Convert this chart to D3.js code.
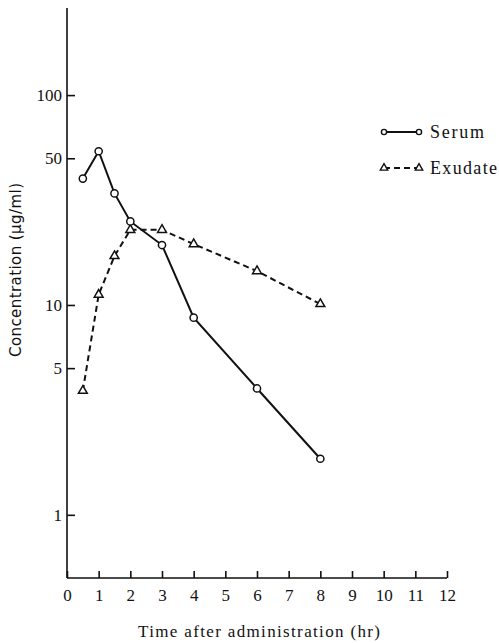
<!DOCTYPE html>
<html>
<head>
<meta charset="utf-8">
<script src="https://cdn.jsdelivr.net/npm/d3@7"></script>
<style>
  body { margin: 0; background: #fff; }
  text { font-family: "Liberation Serif", "DejaVu Serif", serif; fill: #111; }
  .axis path, .axis line { stroke: #111; stroke-width: 1.6; }
</style>
</head>
<body>
<svg width="499" height="643"></svg>
<script>
var hours = [0.5, 1, 1.5, 2, 3, 4, 6, 8];
var serum = [40, 54, 34, 25, 19.3, 8.7, 4.0, 1.85];
var exudate = [3.9, 11.2, 17.1, 22.8, 22.8, 19.5, 14.5, 10.1];
var xTicks = [0, 1, 2, 3, 4, 5, 6, 7, 8, 9, 10, 11, 12];
var yTicks = [1, 5, 10, 50, 100];

var svg = d3.select("svg");

var x = d3.scaleLinear().domain([0, 12]).range([67, 447]);
var y = d3.scaleLog().domain([0.5, 260]).range([578, 8]);

// axes
svg.append("g")
    .attr("class", "axis")
    .attr("transform", "translate(0,578)")
    .call(d3.axisBottom(x).tickValues(xTicks).tickSize(-7).tickSizeOuter(0).tickPadding(0))
    .call(function (g) {
        g.select(".domain").attr("d", "M67,0H447");
        g.selectAll("text").attr("dy", "23").style("font-size", "17px");
    });

svg.append("g")
    .attr("class", "axis")
    .attr("transform", "translate(67,0)")
    .call(d3.axisLeft(y).tickValues(yTicks).tickFormat(d3.format("d")).tickSize(-8).tickSizeOuter(0).tickPadding(5))
    .call(function (g) {
        g.select(".domain").attr("d", "M0,8V578");
        g.selectAll("text").style("font-size", "17px");
    });

// lines
var serumData = hours.map(function (h, i) { return { h: h, v: serum[i] }; });
var exudateData = hours.map(function (h, i) { return { h: h, v: exudate[i] }; });

var line = d3.line()
    .x(function (d) { return x(d.h); })
    .y(function (d) { return y(d.v); });

svg.append("path")
    .datum(exudateData)
    .attr("d", line)
    .attr("fill", "none")
    .attr("stroke", "#111")
    .attr("stroke-width", 2)
    .attr("stroke-dasharray", "6,4");

svg.append("path")
    .datum(serumData)
    .attr("d", line)
    .attr("fill", "none")
    .attr("stroke", "#111")
    .attr("stroke-width", 2);

var tri = d3.symbol().type(d3.symbolTriangle).size(34);

svg.append("g").selectAll("path")
    .data(exudateData)
    .enter().append("path")
    .attr("d", tri)
    .attr("transform", function (d) { return "translate(" + x(d.h) + "," + y(d.v) + ")"; })
    .attr("fill", "#fff")
    .attr("stroke", "#111")
    .attr("stroke-width", 1.5);

svg.append("g").selectAll("circle")
    .data(serumData)
    .enter().append("circle")
    .attr("cx", function (d) { return x(d.h); })
    .attr("cy", function (d) { return y(d.v); })
    .attr("r", 3.6)
    .attr("fill", "#fff")
    .attr("stroke", "#111")
    .attr("stroke-width", 1.5);

// legend
var legend = svg.append("g");
legend.append("line").attr("x1", 384).attr("x2", 419).attr("y1", 132).attr("y2", 132)
    .attr("stroke", "#111").attr("stroke-width", 2);
legend.selectAll("circle.l").data([384, 419]).enter().append("circle")
    .attr("cx", function (d) { return d; }).attr("cy", 132).attr("r", 2.6)
    .attr("fill", "#fff").attr("stroke", "#111").attr("stroke-width", 1.4);
legend.append("text").attr("x", 430).attr("y", 138).text("Serum")
    .attr("textLength", 54).style("font-size", "18px");

legend.append("line").attr("x1", 384).attr("x2", 419).attr("y1", 168).attr("y2", 168)
    .attr("stroke", "#111").attr("stroke-width", 2).attr("stroke-dasharray", "6,4");
legend.selectAll("path.l").data([384, 419]).enter().append("path")
    .attr("d", d3.symbol().type(d3.symbolTriangle).size(24))
    .attr("transform", function (d) { return "translate(" + d + ",168)"; })
    .attr("fill", "#fff").attr("stroke", "#111").attr("stroke-width", 1.4);
legend.append("text").attr("x", 430).attr("y", 174).text("Exudate")
    .attr("textLength", 67).style("font-size", "18px");

// axis titles
svg.append("text")
    .attr("transform", "translate(21,270) rotate(-90)")
    .attr("text-anchor", "middle")
    .attr("textLength", 174)
    .style("font-family", "'DejaVu Sans', sans-serif")
    .style("font-size", "15px")
    .text("Concentration (μg/ml)");

svg.append("text")
    .attr("x", 259)
    .attr("y", 637)
    .attr("text-anchor", "middle")
    .attr("textLength", 242)
    .style("font-size", "17px")
    .text("Time after administration (hr)");
</script>
</body>
</html>
